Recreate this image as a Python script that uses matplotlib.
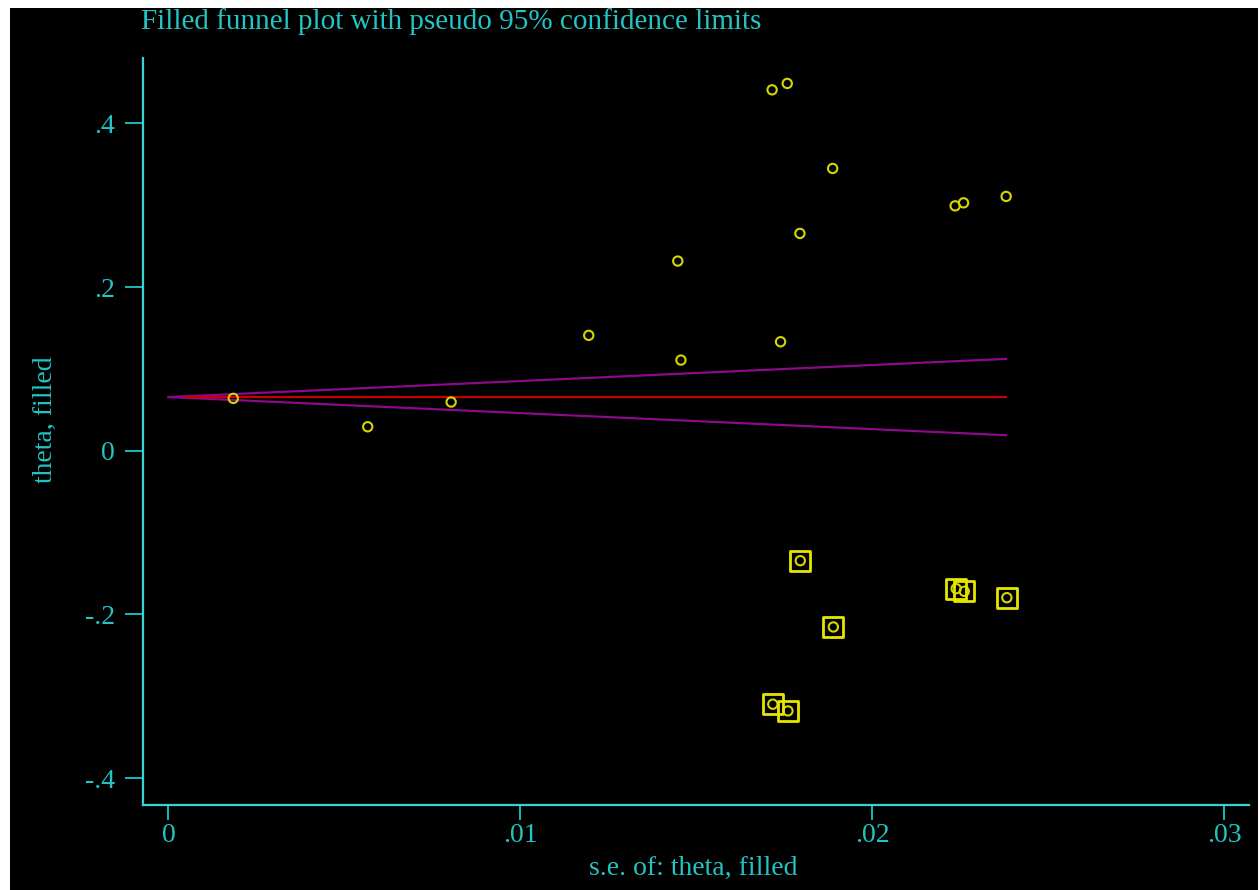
import numpy as np
import matplotlib.pyplot as plt
from matplotlib.patches import Rectangle

# observed studies: standard error and effect estimate
se_obs = [0.00184, 0.00566, 0.00803, 0.01194, 0.01447, 0.01456, 0.01715, 0.01758,
          0.01739, 0.01794, 0.01887, 0.02235, 0.02259, 0.02380]
theta_obs = [0.0640, 0.0293, 0.0595, 0.1410, 0.2318, 0.1108, 0.4411, 0.4489,
             0.1332, 0.2656, 0.3450, 0.2993, 0.3030, 0.3108]

# imputed (trim and fill) studies
se_fill = [0.01795, 0.01889, 0.02238, 0.02261, 0.02382, 0.01717, 0.01760]
theta_fill = [-0.1344, -0.2154, -0.1686, -0.1718, -0.1796, -0.3098, -0.3180]

# pooled estimate and funnel extent
theta_pooled = 0.0656
se_max = 0.0238
se_line_start = 0.0005

xticks = [0, 0.01, 0.02, 0.03]
xticklabels = ['0', '.01', '.02', '.03']
yticks = [-0.4, -0.2, 0, 0.2, 0.4]
yticklabels = ['-.4', '-.2', '0', '.2', '.4']

CYAN = '#22c4c4'
SPINE = '#3cd2d2'
YELLOW = '#d6d600'
plt.rcParams['font.family'] = ['Liberation Serif', 'DejaVu Serif']

fig = plt.figure(figsize=(12.59, 8.90), dpi=100, facecolor='white')
# black plotting region with thin white margin on left/top
fig.patches.append(Rectangle((10 / 1259, 0), 1248 / 1259, 882 / 890,
                             transform=fig.transFigure, facecolor='black',
                             edgecolor='none', zorder=-10))

ax = fig.add_axes([142.7 / 1259, 1 - 805 / 890, (1249 - 142.7) / 1259, (805 - 58) / 890])
ax.set_facecolor('black')

# pseudo 95% confidence limits
se_grid = np.linspace(0, se_max, 50)
ax.plot(se_grid, theta_pooled + 1.96 * se_grid, color='#8a0a8a', lw=1.6)
ax.plot(se_grid, theta_pooled - 1.96 * se_grid, color='#8a0a8a', lw=1.6)
ax.plot([se_line_start, se_max], [theta_pooled, theta_pooled], color='#c80000', lw=1.6)

ax.scatter(se_obs, theta_obs, s=45, facecolors='none', edgecolors=YELLOW, linewidths=1.5, zorder=3)
ax.scatter(se_fill, theta_fill, s=45, facecolors='none', edgecolors=YELLOW, linewidths=1.5, zorder=3)
ax.scatter(se_fill, theta_fill, s=210, marker='s', facecolors='none', edgecolors='#e6e600',
           linewidths=2.0, zorder=3)

ax.set_xlim(-0.000733, 0.0307)
ax.set_ylim(-0.433, 0.480)

for side in ['top', 'right']:
    ax.spines[side].set_visible(False)
for side in ['left', 'bottom']:
    ax.spines[side].set_color(SPINE)
    ax.spines[side].set_linewidth(1.6)

ax.set_xticks(xticks)
ax.set_xticklabels(xticklabels)
ax.set_yticks(yticks)
ax.set_yticklabels(yticklabels)
ax.tick_params(axis='y', colors=CYAN, length=13, width=1.3, pad=7, labelsize=20)
ax.tick_params(axis='x', colors=CYAN, length=11, width=1.3, pad=2, labelsize=20)

fig.text(141 / 1259, 1 - 22 / 890, 'Filled funnel plot with pseudo 95% confidence limits',
         color=CYAN, fontsize=21, ha='left', va='center')
fig.text(693 / 1259, 1 - 868 / 890, 's.e. of: theta, filled', color=CYAN,
         fontsize=20, ha='center', va='center')
fig.text(45 / 1259, 1 - 420 / 890, 'theta, filled', color=CYAN, fontsize=20,
         ha='center', va='center', rotation=90)

fig.savefig('out.png', dpi=100, facecolor='white')
